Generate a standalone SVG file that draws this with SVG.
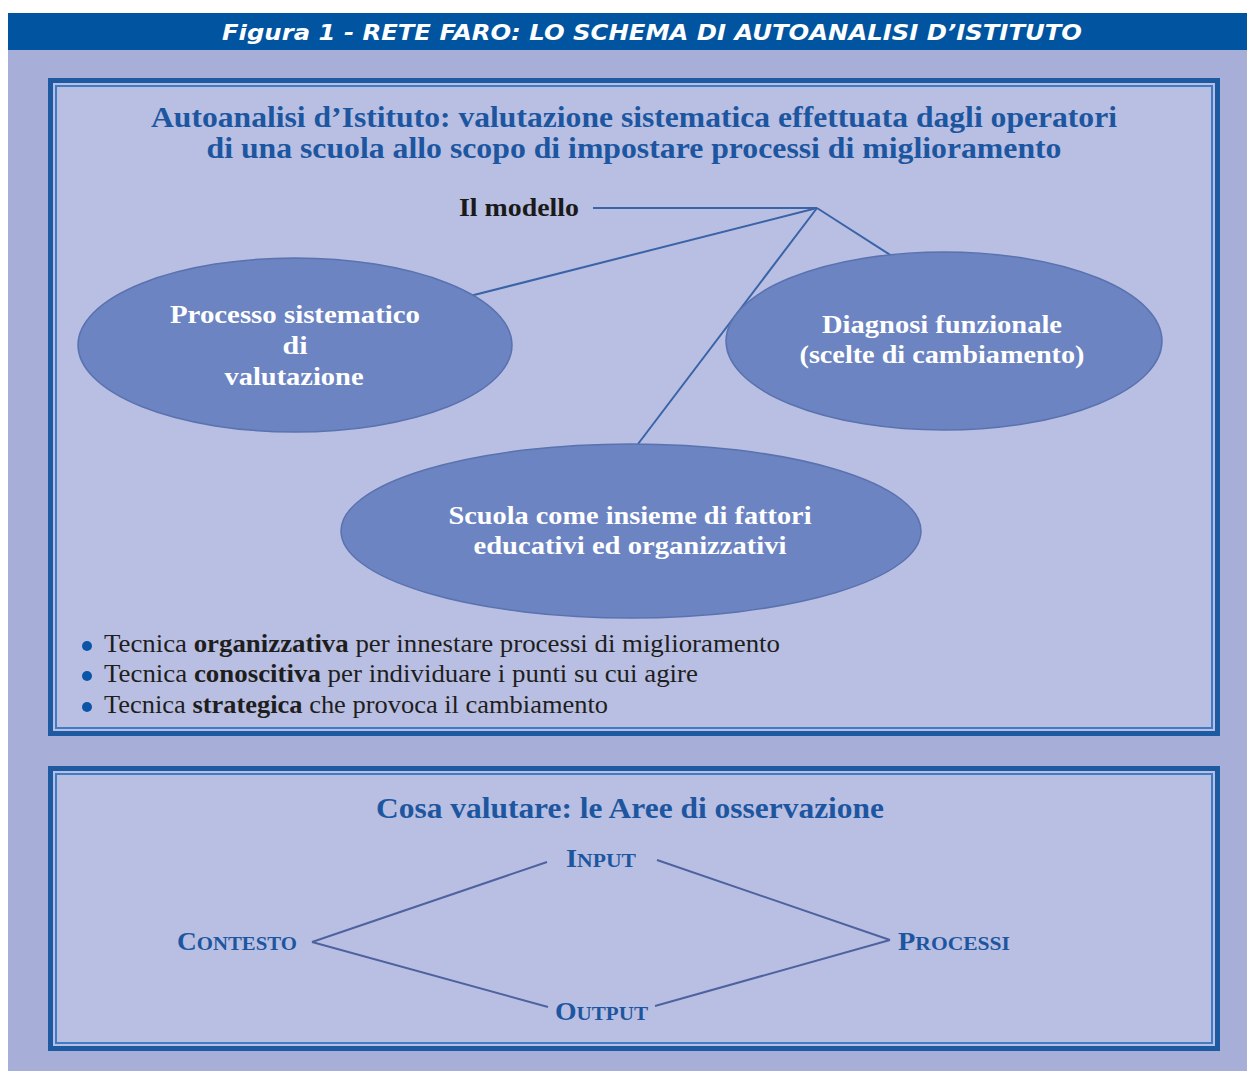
<svg xmlns="http://www.w3.org/2000/svg" width="1247" height="1071" viewBox="0 0 1247 1071">
<style>
.frameOut{fill:#b9bfe2;stroke:#1d5aa2;stroke-width:5}
.frameIn{fill:none;stroke:#3f7cc4;stroke-width:2}
.ell{fill:#6c84c2;stroke:#5a72b0;stroke-width:1.5}
.etx{font-family:"Liberation Serif",serif;font-weight:bold;font-size:25px;fill:#ffffff;text-anchor:middle}
.ttl{font-family:"Liberation Serif",serif;font-weight:bold;font-size:29px;fill:#1d56a0;text-anchor:middle}
.bul{font-family:"Liberation Serif",serif;font-size:25px;fill:#1e1e1e}
.sc{font-family:"Liberation Serif",serif;font-weight:bold;font-size:25px;fill:#1d56a0}
.sc tspan.s{font-size:19px}
.conn line{stroke:#3a63a8;stroke-width:2}
.conn2 line{stroke:#4f62a0;stroke-width:2}
</style>
<rect x="0" y="0" width="1247" height="1071" fill="#ffffff"/>
<rect x="8" y="50" width="1239" height="1021" fill="#a7afd8"/>
<rect x="8" y="13" width="1239" height="37" fill="#0054a0"/>
<text x="652" y="40" font-family="DejaVu Sans, sans-serif" font-weight="bold" font-style="italic" font-size="21" fill="#ffffff" text-anchor="middle" textLength="860" lengthAdjust="spacingAndGlyphs">Figura 1 - RETE FARO: LO SCHEMA DI AUTOANALISI D’ISTITUTO</text>

<g id="box1">
<rect class="frameOut" x="50.5" y="80.5" width="1167" height="653"/>
<rect class="frameIn" x="56" y="86" width="1156" height="642"/>
<text class="ttl" x="634" y="127" textLength="966" lengthAdjust="spacingAndGlyphs">Autoanalisi d’Istituto: valutazione sistematica effettuata dagli operatori</text>
<text class="ttl" x="634" y="158" textLength="855" lengthAdjust="spacingAndGlyphs">di una scuola allo scopo di impostare processi di miglioramento</text>
</g>

<g class="conn" id="connectors-model">
<line x1="593" y1="208" x2="817" y2="208"/>
<line x1="817" y1="208" x2="470" y2="296"/>
<line x1="817" y1="208" x2="638" y2="444"/>
<line x1="817" y1="208" x2="895" y2="258"/>
</g>

<g id="modello">
<text x="459" y="216" font-family="Liberation Serif, serif" font-weight="bold" font-size="25" fill="#1a1a1a" textLength="120" lengthAdjust="spacingAndGlyphs">Il modello</text>
</g>

<g id="processo">
<ellipse class="ell" cx="295" cy="345" rx="217" ry="87"/>
<text class="etx" x="295" y="323" textLength="250" lengthAdjust="spacingAndGlyphs">Processo sistematico</text>
<text class="etx" x="295" y="354" textLength="25" lengthAdjust="spacingAndGlyphs">di</text>
<text class="etx" x="294" y="385" textLength="139" lengthAdjust="spacingAndGlyphs">valutazione</text>
</g>

<g id="diagnosi">
<ellipse class="ell" cx="944" cy="341" rx="218" ry="89"/>
<text class="etx" x="942" y="333" textLength="240" lengthAdjust="spacingAndGlyphs">Diagnosi funzionale</text>
<text class="etx" x="942" y="363" textLength="285" lengthAdjust="spacingAndGlyphs">(scelte di cambiamento)</text>
</g>

<g id="scuola">
<ellipse class="ell" cx="631" cy="531" rx="290" ry="87"/>
<text class="etx" x="630" y="524" textLength="363" lengthAdjust="spacingAndGlyphs">Scuola come insieme di fattori</text>
<text class="etx" x="630" y="554" textLength="313" lengthAdjust="spacingAndGlyphs">educativi ed organizzativi</text>
</g>

<g id="bullets">
<circle cx="87" cy="646" r="5" fill="#0a55a8"/>
<circle cx="87" cy="676" r="5" fill="#0a55a8"/>
<circle cx="87" cy="707" r="5" fill="#0a55a8"/>
<text class="bul" x="104" y="652" textLength="676" lengthAdjust="spacingAndGlyphs">Tecnica <tspan font-weight="bold">organizzativa</tspan> per innestare processi di miglioramento</text>
<text class="bul" x="104" y="682" textLength="594" lengthAdjust="spacingAndGlyphs">Tecnica <tspan font-weight="bold">conoscitiva</tspan> per individuare i punti su cui agire</text>
<text class="bul" x="104" y="713" textLength="504" lengthAdjust="spacingAndGlyphs">Tecnica <tspan font-weight="bold">strategica</tspan> che provoca il cambiamento</text>
</g>

<g id="box2">
<rect class="frameOut" x="50.5" y="768.5" width="1167" height="280"/>
<rect class="frameIn" x="56" y="774" width="1156" height="269"/>
<text class="ttl" x="630" y="818" textLength="508" lengthAdjust="spacingAndGlyphs">Cosa valutare: le Aree di osservazione</text>
</g>

<g class="conn2" id="connectors-aree">
<line x1="547" y1="862" x2="312" y2="942"/>
<line x1="312" y1="942" x2="548" y2="1007"/>
<line x1="657" y1="860" x2="890" y2="940"/>
<line x1="890" y1="940" x2="655" y2="1006"/>
</g>

<g id="input"><text class="sc" x="566" y="867" textLength="70" lengthAdjust="spacingAndGlyphs">I<tspan class="s">NPUT</tspan></text></g>
<g id="contesto"><text class="sc" x="177" y="950" textLength="120" lengthAdjust="spacingAndGlyphs">C<tspan class="s">ONTESTO</tspan></text></g>
<g id="processi"><text class="sc" x="898" y="950" textLength="112" lengthAdjust="spacingAndGlyphs">P<tspan class="s">ROCESSI</tspan></text></g>
<g id="output"><text class="sc" x="555" y="1020" textLength="93" lengthAdjust="spacingAndGlyphs">O<tspan class="s">UTPUT</tspan></text></g>
</svg>
